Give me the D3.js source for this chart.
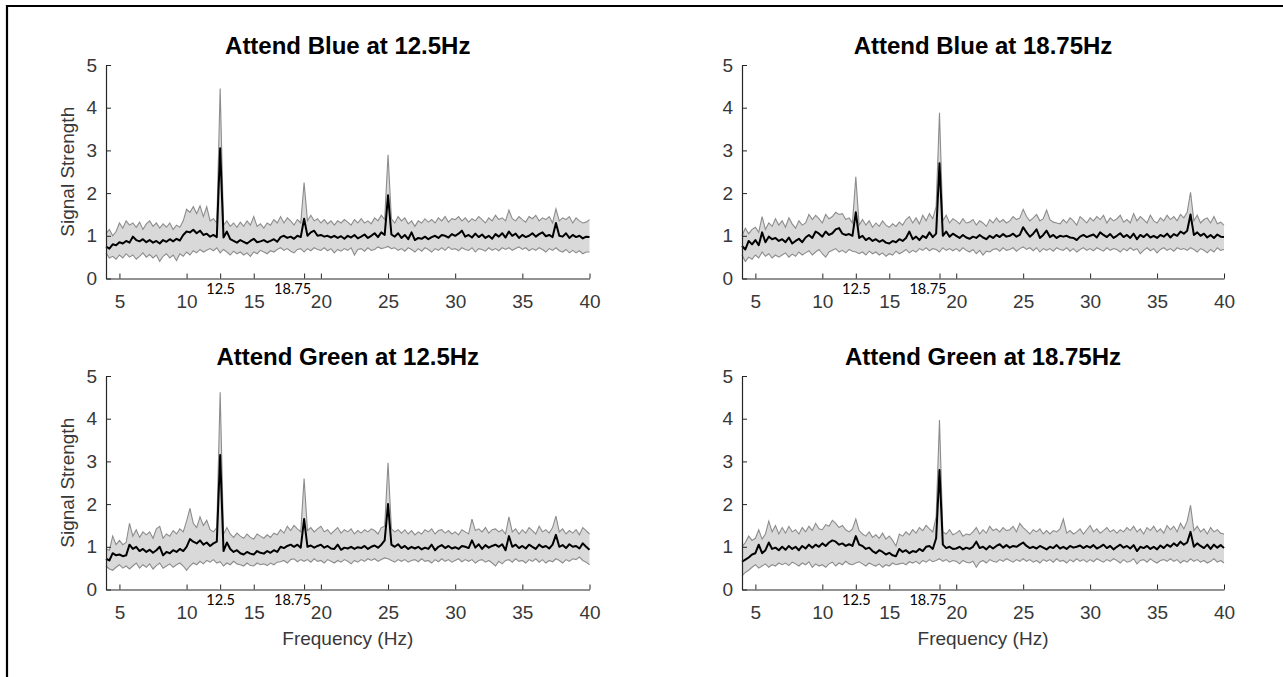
<!DOCTYPE html>
<html>
<head>
<meta charset="utf-8">
<script src="https://cdn.jsdelivr.net/npm/d3@7"></script>
<style>
  html, body { margin: 0; padding: 0; background: #fff; }
  svg { display: block; }
</style>
</head>
<body>
<script>
// ---------------- DATA ----------------
const FREQ = [4,4.25,4.5,4.75,5,5.25,5.5,5.75,6,6.25,6.5,6.75,7,7.25,7.5,7.75,8,8.25,8.5,8.75,9,9.25,9.5,9.75,10,10.25,10.5,10.75,11,11.25,11.5,11.75,12,12.25,12.5,12.75,13,13.25,13.5,13.75,14,14.25,14.5,14.75,15,15.25,15.5,15.75,16,16.25,16.5,16.75,17,17.25,17.5,17.75,18,18.25,18.5,18.75,19,19.25,19.5,19.75,20,20.25,20.5,20.75,21,21.25,21.5,21.75,22,22.25,22.5,22.75,23,23.25,23.5,23.75,24,24.25,24.5,24.75,25,25.25,25.5,25.75,26,26.25,26.5,26.75,27,27.25,27.5,27.75,28,28.25,28.5,28.75,29,29.25,29.5,29.75,30,30.25,30.5,30.75,31,31.25,31.5,31.75,32,32.25,32.5,32.75,33,33.25,33.5,33.75,34,34.25,34.5,34.75,35,35.25,35.5,35.75,36,36.25,36.5,36.75,37,37.25,37.5,37.75,38,38.25,38.5,38.75,39,39.25,39.5,39.75,40];

const TITLES = ["Attend Blue at 12.5Hz", "Attend Blue at 18.75Hz", "Attend Green at 12.5Hz", "Attend Green at 18.75Hz"];
const X_TICKS = [5, 10, 15, 20, 25, 30, 35, 40];
const X_TICKS_SPECIAL = [12.5, 18.75];
const Y_TICKS = [0, 1, 2, 3, 4, 5];
const X_LABEL = "Frequency (Hz)";
const Y_LABEL = "Signal Strength";

// Attend Blue at 12.5Hz
const MEAN_B125 = [0.75,0.70,0.80,0.78, 0.85,0.82,0.88,0.84, 0.98,0.90,0.87,0.92, 0.85,0.90,0.84,0.88, 0.82,0.90,0.86,0.92, 0.87,0.93,0.89,1.02, 1.10,1.08,1.14,1.06, 1.12,1.02,1.05,0.98, 1.02,0.97,3.05,0.96, 1.10,0.92,0.88,0.84, 0.90,0.86,0.82,0.88, 0.93,0.85,0.87,0.90, 0.85,0.88,0.92,0.86, 0.97,1.00,0.95,0.98, 0.93,1.00,0.97,1.40, 1.00,1.08,1.12,1.00, 1.02,0.98,1.00,0.96, 1.00,0.95,0.99,0.93, 1.00,0.96,1.02,0.94, 0.98,1.03,0.95,1.00, 1.06,0.97,1.08,1.02, 1.95,1.03,0.98,1.06, 0.95,1.02,0.92,1.08, 0.90,0.95,0.93,0.98, 0.92,0.97,1.00,0.95, 1.02,1.00,0.96,1.04, 1.00,1.05,1.12,0.98, 1.02,0.96,1.05,0.97, 1.03,0.95,1.00,0.93, 1.04,0.98,1.06,0.96, 1.10,1.00,1.05,0.95, 1.02,0.97,1.00,1.06, 0.98,1.04,1.08,0.99, 1.02,0.97,1.30,1.00, 0.98,1.06,0.95,1.02, 0.97,1.00,0.94,0.98, 0.97];
const UPPER_B125 = [1.05,1.15,1.00,1.10, 1.30,1.18,1.35,1.25, 1.30,1.20,1.32,1.15, 1.28,1.35,1.22,1.30, 1.18,1.28,1.20,1.30, 1.15,1.25,1.20,1.35, 1.62,1.55,1.68,1.52, 1.70,1.45,1.68,1.35, 1.40,1.30,4.45,1.25, 1.35,1.22,1.30,1.20, 1.32,1.22,1.35,1.25, 1.45,1.22,1.28,1.18, 1.30,1.25,1.38,1.30, 1.45,1.30,1.42,1.35, 1.25,1.38,1.30,2.25, 1.35,1.48,1.35,1.40, 1.30,1.38,1.28,1.35, 1.25,1.35,1.30,1.38, 1.32,1.25,1.38,1.30, 1.40,1.30,1.35,1.28, 1.42,1.35,1.48,1.38, 2.90,1.40,1.30,1.45, 1.35,1.42,1.28,1.35, 1.22,1.35,1.30,1.40, 1.32,1.38,1.30,1.42, 1.35,1.45,1.32,1.40, 1.38,1.45,1.35,1.42, 1.32,1.40,1.35,1.45, 1.38,1.30,1.42,1.35, 1.48,1.38,1.42,1.35, 1.60,1.40,1.35,1.45, 1.38,1.32,1.45,1.40, 1.48,1.35,1.42,1.38, 1.45,1.30,1.63,1.35, 1.42,1.38,1.45,1.30, 1.42,1.35,1.30,1.32, 1.38];
const LOWER_B125 = [0.60,0.48,0.52,0.45, 0.55,0.48,0.58,0.50, 0.55,0.45,0.52,0.60, 0.50,0.56,0.48,0.55, 0.40,0.52,0.58,0.48, 0.55,0.42,0.58,0.52, 0.62,0.55,0.65,0.60, 0.68,0.62,0.66,0.70, 0.65,0.72,0.60,0.68, 0.62,0.55,0.64,0.58, 0.62,0.55,0.60,0.52, 0.62,0.58,0.66,0.62, 0.58,0.65,0.62,0.68, 0.72,0.66,0.70,0.64, 0.60,0.68,0.70,0.62, 0.70,0.65,0.72,0.68, 0.66,0.72,0.65,0.70, 0.60,0.68,0.64,0.70, 0.66,0.72,0.55,0.68, 0.70,0.64,0.72,0.66, 0.68,0.74,0.70,0.72, 0.75,0.70,0.72,0.66, 0.70,0.64,0.72,0.68, 0.62,0.70,0.64,0.72, 0.68,0.62,0.70,0.66, 0.72,0.66,0.74,0.68, 0.70,0.65,0.72,0.68, 0.66,0.72,0.62,0.70, 0.68,0.64,0.72,0.66, 0.70,0.65,0.72,0.68, 0.72,0.66,0.70,0.74, 0.68,0.72,0.65,0.70, 0.66,0.72,0.68,0.62, 0.70,0.66,0.72,0.65, 0.62,0.68,0.60,0.66, 0.60,0.65,0.58,0.62, 0.62];

// Attend Blue at 18.75Hz
const MEAN_B1875 = [0.76,0.68,0.88,0.80, 0.90,0.78,1.08,0.85, 0.98,0.92,0.95,0.88, 0.92,0.85,0.96,0.82, 0.88,0.93,0.85,0.96, 1.02,0.95,1.10,1.05, 0.98,1.10,1.02,1.06, 1.15,1.18,1.05,1.02, 1.04,1.00,1.55,0.95, 1.00,0.90,0.95,0.88, 0.92,0.86,0.90,0.84, 0.82,0.88,0.85,0.92, 0.88,0.95,1.10,0.92, 0.98,0.90,1.00,0.95, 1.08,0.97,1.05,2.70, 1.00,1.10,0.98,1.05, 1.00,0.95,1.02,0.96, 0.93,0.98,0.95,1.02, 0.96,0.92,1.00,0.95, 1.02,0.97,1.04,0.98, 1.00,1.05,0.98,1.02, 1.20,1.08,0.98,1.05, 1.15,0.95,1.02,1.12, 0.97,1.02,0.95,1.00, 0.98,1.00,0.96,0.95, 0.90,0.98,1.02,0.97, 1.00,1.03,0.96,1.08, 1.02,0.97,1.04,0.95, 1.00,1.06,0.97,1.02, 0.95,1.05,0.92,1.02, 0.97,1.04,0.96,1.00, 0.95,1.02,0.98,1.05, 0.96,1.04,1.00,1.10, 1.05,1.12,1.50,1.02, 1.08,1.00,1.05,0.96, 1.02,0.95,1.03,0.98, 0.97];
const UPPER_B1875 = [1.00,1.18,1.05,1.15, 1.20,1.08,1.45,1.15, 1.30,1.22,1.40,1.25, 1.35,1.20,1.42,1.28, 1.18,1.35,1.25,1.30, 1.50,1.38,1.48,1.40, 1.30,1.50,1.40,1.45, 1.55,1.50,1.52,1.38, 1.42,1.30,2.38,1.25, 1.38,1.25,1.35,1.20, 1.30,1.22,1.35,1.25, 1.20,1.28,1.22,1.32, 1.25,1.38,1.45,1.30, 1.42,1.28,1.48,1.35, 1.52,1.40,1.68,3.88, 1.35,1.48,1.30,1.40, 1.35,1.28,1.40,1.30, 1.32,1.38,1.25,1.35, 1.30,1.22,1.38,1.30, 1.42,1.32,1.38,1.30, 1.35,1.45,1.38,1.42, 1.62,1.45,1.35,1.42, 1.50,1.35,1.40,1.60, 1.38,1.32,1.30,1.28, 1.38,1.30,1.42,1.35, 1.25,1.45,1.38,1.30, 1.42,1.35,1.45,1.38, 1.48,1.30,1.42,1.35, 1.40,1.48,1.32,1.38, 1.30,1.52,1.35,1.45, 1.38,1.30,1.48,1.35, 1.30,1.42,1.35,1.48, 1.38,1.45,1.35,1.50, 1.42,1.55,2.02,1.35, 1.48,1.30,1.38,1.42, 1.30,1.45,1.28,1.32, 1.25];
const LOWER_B1875 = [0.55,0.40,0.50,0.45, 0.55,0.48,0.62,0.52, 0.58,0.48,0.55,0.50, 0.55,0.60,0.50,0.57, 0.52,0.62,0.55,0.60, 0.65,0.55,0.62,0.68, 0.58,0.50,0.62,0.66, 0.70,0.62,0.66,0.60, 0.68,0.64,0.62,0.58, 0.62,0.55,0.64,0.58, 0.62,0.55,0.60,0.52, 0.58,0.55,0.64,0.58, 0.62,0.68,0.60,0.66, 0.62,0.70,0.66,0.72, 0.65,0.70,0.68,0.62, 0.72,0.66,0.70,0.65, 0.70,0.64,0.72,0.66, 0.62,0.68,0.58,0.66, 0.55,0.64,0.62,0.68, 0.70,0.64,0.72,0.66, 0.68,0.72,0.64,0.70, 0.74,0.68,0.72,0.65, 0.72,0.62,0.70,0.66, 0.70,0.64,0.72,0.68, 0.66,0.72,0.64,0.70, 0.62,0.68,0.72,0.66, 0.70,0.65,0.72,0.68, 0.64,0.72,0.66,0.70, 0.68,0.62,0.70,0.65, 0.72,0.66,0.70,0.58, 0.66,0.72,0.65,0.70, 0.60,0.68,0.72,0.66, 0.70,0.64,0.72,0.68, 0.70,0.66,0.72,0.68, 0.62,0.70,0.66,0.60, 0.68,0.62,0.72,0.66, 0.68];

// Attend Green at 12.5Hz
const MEAN_G125 = [0.72,0.68,0.85,0.80, 0.82,0.78,0.80,1.05, 0.95,1.00,0.90,0.95, 0.88,0.93,0.86,0.92, 1.00,0.80,0.88,0.85, 0.92,0.88,0.95,0.90, 1.00,1.18,1.12,1.08, 1.15,1.05,1.10,1.02, 1.08,1.12,3.15,0.90, 1.10,0.95,0.88,0.92, 0.85,0.82,0.88,0.84, 0.82,0.90,0.86,0.84, 0.90,0.86,0.92,0.88, 1.00,0.97,1.02,1.05, 1.00,1.05,0.98,1.65, 1.00,1.03,0.98,1.02, 1.05,0.98,1.02,0.96, 0.95,1.05,0.93,0.98, 0.96,1.00,0.95,0.99, 0.97,1.02,0.95,1.00, 1.03,0.98,1.05,1.15, 2.00,1.05,1.00,1.06, 0.97,1.02,0.95,1.00, 0.96,1.00,0.94,0.98, 0.95,1.05,0.92,1.00, 1.04,0.97,1.02,0.96, 0.99,0.95,1.02,1.00, 0.97,1.15,0.98,1.06, 0.95,1.04,0.98,1.02, 1.05,1.00,1.06,0.92, 1.25,1.00,1.05,0.97, 1.02,0.96,1.05,1.00, 0.95,1.05,0.99,1.02, 0.96,1.05,1.28,1.00, 1.04,0.97,1.06,1.00, 1.02,0.96,1.08,1.00, 0.93];
const UPPER_G125 = [0.95,0.92,1.25,1.05, 1.15,1.05,1.10,1.55, 1.25,1.40,1.22,1.35, 1.28,1.35,1.20,1.42, 1.48,1.20,1.30,1.25, 1.38,1.30,1.42,1.35, 1.60,1.90,1.55,1.45, 1.70,1.50,1.62,1.40, 1.35,1.45,4.62,1.30, 1.45,1.30,1.22,1.32, 1.25,1.20,1.30,1.22, 1.18,1.30,1.25,1.20, 1.28,1.22,1.32,1.28, 1.40,1.32,1.48,1.38, 1.50,1.42,1.35,2.60, 1.38,1.45,1.35,1.42, 1.48,1.35,1.40,1.30, 1.38,1.45,1.32,1.40, 1.35,1.42,1.30,1.38, 1.32,1.40,1.35,1.42, 1.38,1.30,1.45,1.48, 2.97,1.42,1.35,1.40, 1.32,1.40,1.30,1.38, 1.28,1.35,1.30,1.40, 1.35,1.42,1.30,1.38, 1.40,1.32,1.38,1.30, 1.35,1.28,1.40,1.35, 1.30,1.65,1.38,1.42, 1.35,1.45,1.32,1.40, 1.42,1.35,1.40,1.30, 1.70,1.35,1.42,1.30, 1.40,1.32,1.45,1.38, 1.30,1.48,1.35,1.40, 1.32,1.45,1.72,1.35, 1.42,1.30,1.38,1.32, 1.40,1.28,1.45,1.38, 1.30];
const LOWER_G125 = [0.55,0.48,0.45,0.52, 0.58,0.50,0.55,0.48, 0.55,0.62,0.50,0.58, 0.52,0.60,0.48,0.56, 0.62,0.50,0.55,0.60, 0.52,0.58,0.62,0.55, 0.45,0.55,0.62,0.58, 0.66,0.60,0.68,0.64, 0.70,0.62,0.65,0.55, 0.62,0.58,0.66,0.60, 0.58,0.55,0.62,0.56, 0.55,0.62,0.58,0.60, 0.56,0.62,0.58,0.64, 0.65,0.68,0.62,0.70, 0.72,0.65,0.70,0.66, 0.70,0.64,0.72,0.66, 0.68,0.62,0.70,0.66, 0.62,0.68,0.64,0.70, 0.66,0.60,0.68,0.64, 0.70,0.66,0.72,0.68, 0.72,0.66,0.70,0.74, 0.72,0.68,0.64,0.70, 0.66,0.70,0.64,0.68, 0.70,0.65,0.72,0.66, 0.68,0.62,0.70,0.65, 0.72,0.66,0.70,0.64, 0.68,0.72,0.65,0.70, 0.66,0.70,0.62,0.68, 0.70,0.64,0.68,0.62, 0.55,0.66,0.60,0.68, 0.70,0.64,0.72,0.66, 0.68,0.62,0.70,0.66, 0.72,0.64,0.70,0.62, 0.68,0.65,0.72,0.68, 0.62,0.70,0.66,0.72, 0.70,0.76,0.68,0.64, 0.58];

// Attend Green at 18.75Hz
const MEAN_G1875 = [0.65,0.70,0.75,0.82, 0.85,1.05,0.85,0.92, 1.10,0.95,0.98,0.92, 1.00,0.93,1.02,0.95, 1.00,0.92,1.02,0.96, 1.05,0.98,1.05,1.00, 1.08,1.02,1.10,1.15, 1.12,1.05,1.08,1.02, 1.06,1.02,1.25,1.05, 1.02,0.95,0.98,0.90, 0.85,0.92,0.88,0.82, 0.86,0.80,0.78,0.95, 0.88,0.92,0.85,0.90, 0.88,0.95,0.90,1.00, 1.02,0.95,1.20,2.80, 1.05,0.97,1.00,0.95, 0.96,1.00,0.94,0.98, 0.95,1.00,1.12,0.97, 1.00,0.94,1.02,0.96, 1.02,1.06,0.98,1.04, 0.98,1.02,1.00,1.05, 1.10,1.02,0.97,1.00, 0.96,1.02,0.98,0.94, 1.00,0.97,1.04,0.96, 1.00,0.95,1.02,0.98, 1.00,1.03,0.97,1.02, 0.98,1.04,0.96,1.00, 1.05,0.97,1.02,0.94, 1.00,1.05,0.98,1.02, 0.96,1.04,0.90,1.00, 0.97,1.02,0.95,1.00, 0.94,1.03,0.97,1.05, 1.00,1.08,1.02,1.12, 1.05,1.10,1.35,1.00, 1.08,1.02,0.97,1.05, 0.95,1.05,0.98,1.04, 0.97];
const UPPER_G1875 = [1.00,1.10,1.25,1.15, 1.20,1.40,1.18,1.30, 1.60,1.35,1.50,1.30, 1.45,1.32,1.48,1.35, 1.40,1.30,1.45,1.35, 1.48,1.38,1.55,1.42, 1.40,1.52,1.48,1.62, 1.55,1.45,1.50,1.40, 1.35,1.42,1.65,1.38, 1.30,1.25,1.35,1.22, 1.28,1.20,1.32,1.18, 1.25,1.15,1.02,1.30, 1.25,1.35,1.28,1.40, 1.32,1.45,1.38,1.50, 1.42,1.35,1.70,3.97, 1.35,1.30,1.40,1.28, 1.32,1.38,1.25,1.30, 1.28,1.35,1.45,1.30, 1.40,1.32,1.48,1.38, 1.42,1.35,1.45,1.38, 1.40,1.48,1.35,1.55, 1.45,1.38,1.30,1.40, 1.35,1.42,1.30,1.38, 1.30,1.38,1.35,1.42, 1.65,1.32,1.38,1.30, 1.35,1.42,1.30,1.40, 1.50,1.35,1.42,1.32, 1.38,1.45,1.35,1.40, 1.32,1.40,1.35,1.45, 1.38,1.48,1.35,1.42, 1.30,1.45,1.38,1.48, 1.35,1.42,1.32,1.50, 1.40,1.48,1.35,1.55, 1.42,1.60,1.97,1.38, 1.48,1.35,1.42,1.30, 1.45,1.35,1.40,1.32, 1.30];
const LOWER_G1875 = [0.32,0.40,0.45,0.52, 0.58,0.50,0.55,0.60, 0.52,0.58,0.55,0.62, 0.58,0.62,0.56,0.64, 0.60,0.55,0.62,0.58, 0.65,0.52,0.60,0.55, 0.58,0.52,0.60,0.64, 0.55,0.62,0.58,0.66, 0.60,0.58,0.62,0.65, 0.60,0.55,0.62,0.58, 0.55,0.60,0.52,0.58, 0.55,0.62,0.58,0.60, 0.62,0.58,0.65,0.62, 0.66,0.60,0.68,0.64, 0.70,0.65,0.68,0.72, 0.66,0.70,0.64,0.68, 0.66,0.60,0.68,0.64, 0.62,0.66,0.52,0.64, 0.68,0.62,0.70,0.66, 0.64,0.70,0.66,0.72, 0.68,0.64,0.70,0.66, 0.72,0.66,0.70,0.64, 0.68,0.62,0.70,0.66, 0.70,0.64,0.72,0.66, 0.68,0.62,0.70,0.65, 0.72,0.66,0.70,0.64, 0.70,0.65,0.72,0.68, 0.64,0.70,0.66,0.72, 0.68,0.62,0.70,0.64, 0.66,0.72,0.60,0.68, 0.70,0.64,0.72,0.66, 0.62,0.68,0.70,0.66, 0.72,0.66,0.70,0.62, 0.68,0.64,0.72,0.66, 0.70,0.64,0.68,0.62, 0.66,0.72,0.64,0.68, 0.62];

const SERIES = [
  { mean: MEAN_B125,  upper: UPPER_B125,  lower: LOWER_B125 },
  { mean: MEAN_B1875, upper: UPPER_B1875, lower: LOWER_B1875 },
  { mean: MEAN_G125,  upper: UPPER_G125,  lower: LOWER_G125 },
  { mean: MEAN_G1875, upper: UPPER_G1875, lower: LOWER_G1875 }
];

// ---------------- LAYOUT ----------------
const W = 1283, H = 677;
const LAYOUT = [
  { left: 106, right: 589.5, top: 65, bottom: 278.5, ylab: true,  xlab: false },
  { left: 742, right: 1224,  top: 65, bottom: 278.5, ylab: false, xlab: false },
  { left: 106, right: 589.5, top: 376, bottom: 589.5, ylab: true,  xlab: true },
  { left: 742, right: 1224,  top: 376, bottom: 589.5, ylab: false, xlab: true }
];
const AXIS_COLOR = "#262626";
const TEXT_COLOR = "#383838";

const svg = d3.select("body").append("svg")
  .attr("width", W).attr("height", H);

svg.append("rect").attr("width", W).attr("height", H).attr("fill", "#fff");

// figure frame (top and left border)
svg.append("path")
  .attr("d", "M7,677V6H1283")
  .attr("fill", "none").attr("stroke", "#000").attr("stroke-width", 2.2);

LAYOUT.forEach((L, i) => {
  const S = SERIES[i];
  const x = d3.scaleLinear().domain([4, 40]).range([L.left, L.right]);
  const y = d3.scaleLinear().domain([0, 5]).range([L.bottom, L.top]);
  const g = svg.append("g");

  const pts = FREQ.map((f, k) => ({ f, m: S.mean[k], u: S.upper[k], l: S.lower[k] }));

  // band
  g.append("path")
    .datum(pts)
    .attr("d", d3.area().x(d => x(d.f)).y0(d => y(d.l)).y1(d => y(d.u)))
    .attr("fill", "#d9d9d9").attr("stroke", "none");
  g.append("path").datum(pts)
    .attr("d", d3.line().x(d => x(d.f)).y(d => y(d.u)))
    .attr("fill", "none").attr("stroke", "#8c8c8c").attr("stroke-width", 1.1);
  g.append("path").datum(pts)
    .attr("d", d3.line().x(d => x(d.f)).y(d => y(d.l)))
    .attr("fill", "none").attr("stroke", "#8c8c8c").attr("stroke-width", 1.1);
  // mean
  g.append("path").datum(pts)
    .attr("d", d3.line().x(d => x(d.f)).y(d => y(d.m)))
    .attr("fill", "none").attr("stroke", "#000").attr("stroke-width", 2)
    .attr("stroke-linejoin", "round");

  // x axis
  const xa = g.append("g")
    .attr("transform", `translate(0,${L.bottom})`)
    .call(d3.axisBottom(x).tickValues(X_TICKS).tickFormat(d3.format("d"))
      .tickSizeInner(-5).tickSizeOuter(0).tickPadding(16.5));
  xa.select(".domain").attr("stroke", AXIS_COLOR).attr("stroke-width", 1.2);
  xa.selectAll(".tick line").attr("stroke", AXIS_COLOR);
  xa.selectAll(".tick text").attr("fill", TEXT_COLOR)
    .style("font-family", "Liberation Sans, Arial, sans-serif").style("font-size", "19px");

  // special ticks
  const xs = g.append("g")
    .attr("transform", `translate(0,${L.bottom})`)
    .call(d3.axisBottom(x).tickValues(X_TICKS_SPECIAL).tickFormat(d => String(d))
      .tickSizeInner(-5).tickSizeOuter(0).tickPadding(5));
  xs.select(".domain").remove();
  xs.selectAll(".tick line").attr("stroke", AXIS_COLOR);
  xs.selectAll(".tick text").attr("fill", "#000")
    .attr("dx", d => d === 18.75 ? -12 : 0)
    .style("font-family", "Lato, sans-serif").style("font-size", "14.5px");

  // y axis
  const ya = g.append("g")
    .attr("transform", `translate(${L.left},0)`)
    .call(d3.axisLeft(y).tickValues(Y_TICKS).tickFormat(d3.format("d"))
      .tickSizeInner(-5).tickSizeOuter(0).tickPadding(9));
  ya.select(".domain").attr("stroke", AXIS_COLOR).attr("stroke-width", 1.2);
  ya.selectAll(".tick line").attr("stroke", AXIS_COLOR);
  ya.selectAll(".tick text").attr("fill", TEXT_COLOR)
    .style("font-family", "Liberation Sans, Arial, sans-serif").style("font-size", "19px");

  // title
  g.append("text")
    .attr("x", (L.left + L.right) / 2).attr("y", L.top - 11)
    .attr("text-anchor", "middle")
    .style("font-family", "Liberation Sans, Arial, sans-serif")
    .style("font-weight", "bold").style("font-size", "24px")
    .attr("fill", "#000")
    .text(TITLES[i]);

  if (L.ylab) {
    g.append("text")
      .attr("transform", `translate(74,${(L.top + L.bottom) / 2}) rotate(-90)`)
      .attr("text-anchor", "middle")
      .style("font-family", "Liberation Sans, Arial, sans-serif").style("font-size", "19px")
      .attr("fill", TEXT_COLOR)
      .text(Y_LABEL);
  }
  if (L.xlab) {
    g.append("text")
      .attr("x", (L.left + L.right) / 2).attr("y", L.bottom + 55)
      .attr("text-anchor", "middle")
      .style("font-family", "Liberation Sans, Arial, sans-serif").style("font-size", "19px")
      .attr("fill", TEXT_COLOR)
      .text(X_LABEL);
  }
});
</script>
</body>
</html>
